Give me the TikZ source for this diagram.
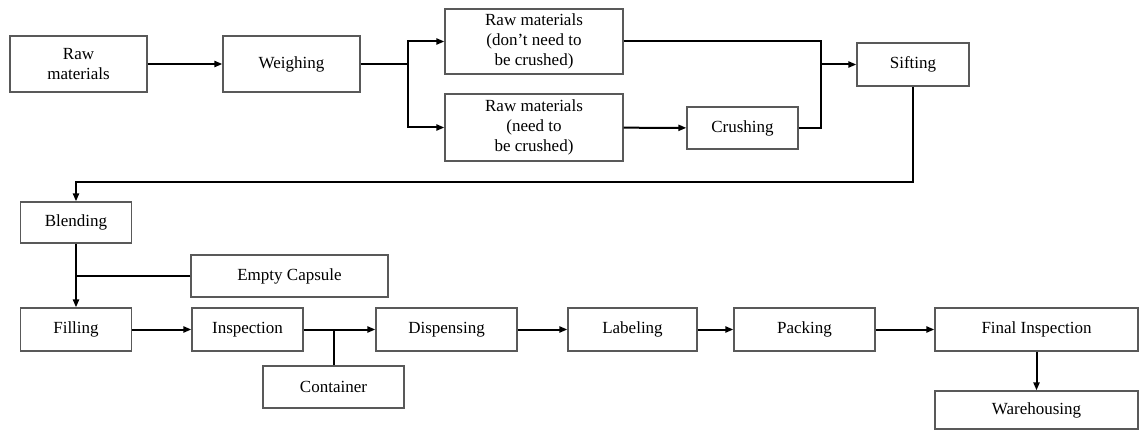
\documentclass[tikz,border=0pt]{standalone}
\usepackage{fontspec}
\setmainfont{Liberation Serif}
\usetikzlibrary{arrows.meta,calc}

\begin{document}
\begin{tikzpicture}[x=1pt,y=-1pt,>={Triangle[length=8pt,width=6pt]},
    box/.style={draw=black!65,line width=1.2pt,rectangle,inner sep=2pt,align=center,
      font=\fontsize{17}{20}\selectfont},
    link/.style={line width=2pt}]
  \useasboundingbox (0,0) rectangle (1145,430);

  % first row
  \node[box,minimum width=137pt,minimum height=56pt] (rawmat) at (78.5,64) {Raw\\materials};
  \node[box,minimum width=137pt,minimum height=56pt] (weigh) at (291.5,64) {Weighing};
  \node[box,minimum width=178pt,minimum height=65pt] (rawno) at (534,41.5) {Raw materials\\(don’t need to\\be crushed)};
  \node[box,minimum width=178pt,minimum height=67pt] (rawyes) at (534,127.5) {Raw materials\\(need to\\be crushed)};
  \node[box,minimum width=111pt,minimum height=42pt] (crush) at (742.5,128) {Crushing};
  \node[box,minimum width=112pt,minimum height=43pt] (sift) at (913,64.5) {Sifting};

  % blending and filling
  \node[box,minimum width=111pt,minimum height=41pt] (blend) at (76,222.5) {Blending};
  \node[box,minimum width=197pt,minimum height=42pt] (capsule) at (289.5,276) {Empty Capsule};
  \node[box,minimum width=111pt,minimum height=43pt] (fill) at (76,329.5) {Filling};

  % last row
  \node[box,minimum width=111pt,minimum height=43pt] (insp) at (247.5,329.5) {Inspection};
  \node[box,minimum width=141pt,minimum height=42pt] (container) at (333.5,387) {Container};
  \node[box,minimum width=141pt,minimum height=43pt] (disp) at (446.5,329.5) {Dispensing};
  \node[box,minimum width=129pt,minimum height=43pt] (label) at (632.5,329.5) {Labeling};
  \node[box,minimum width=141pt,minimum height=43pt] (pack) at (804.5,329.5) {Packing};
  \node[box,minimum width=203pt,minimum height=43pt] (fininsp) at (1036.5,329.5) {Final Inspection};
  \node[box,minimum width=203pt,minimum height=38pt] (ware) at (1036.5,410) {Warehousing};

  \coordinate (split) at (408,64);
  \coordinate (merge) at (821,64.5);
  \coordinate (turn) at (76,182);

  \draw[link,->] (rawmat) -- (weigh);
  \draw[link,->] (weigh.east) -- (split) |- (rawno.west);
  \draw[link,->] (split) |- (rawyes.west);
  \draw[link,->] (rawyes) -- (crush);
  \draw[link] (rawno.east) -| (merge);
  \draw[link] (crush.east) -| (merge);
  \draw[link,->] (merge) -- (sift.west);
  \draw[link,->] (sift.south) |- (turn) -- (blend.north);
  \draw[link,->] (blend) -- (fill);
  \draw[link] (capsule.west) -- (blend.south |- capsule.west);
  \draw[link,->] (fill) -- (insp);
  \draw[link,->] (insp) -- (disp);
  \draw[link] (container.north) -- (container.north |- insp.east);
  \draw[link,->] (disp) -- (label);
  \draw[link,->] (label) -- (pack);
  \draw[link,->] (pack) -- (fininsp);
  \draw[link,->] (fininsp) -- (ware);
\end{tikzpicture}
\end{document}
